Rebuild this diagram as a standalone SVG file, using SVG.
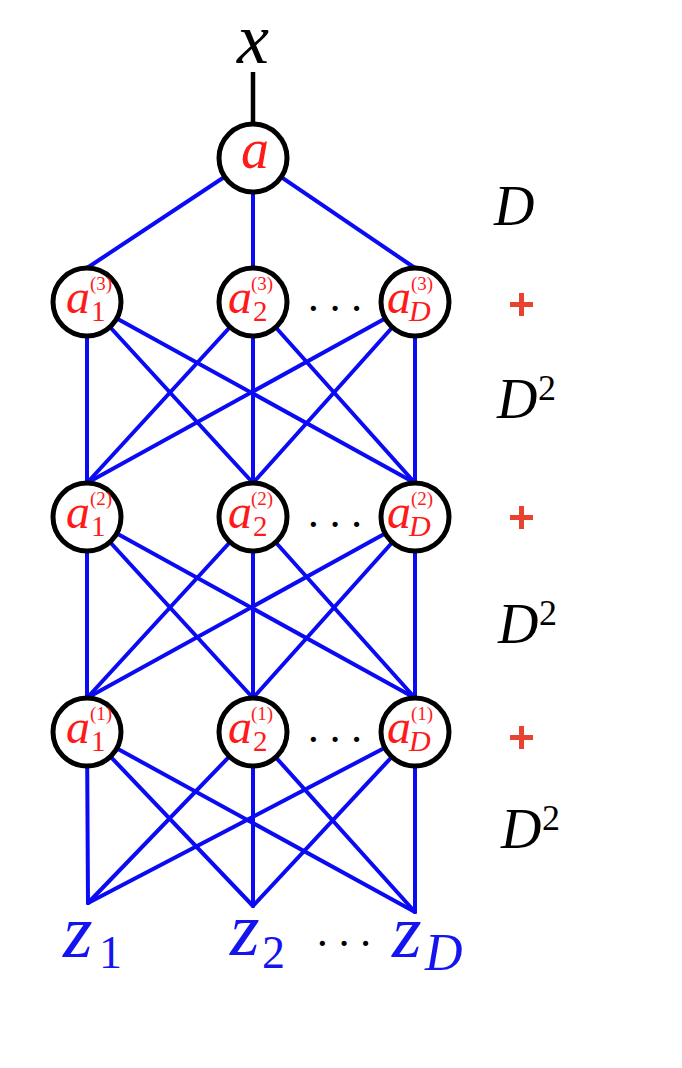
<svg xmlns="http://www.w3.org/2000/svg" width="682" height="1068" viewBox="0 0 682 1068">
<style>
.edge{stroke:#0a0af5;stroke-width:4;fill:none;stroke-linecap:round}
.node circle{fill:#fff;stroke:#000;stroke-width:5}
.it{font-family:"Liberation Serif",serif;font-style:italic}
.rm{font-family:"Liberation Serif",serif}
.red{fill:#ff1a1a}
.blk{fill:#000}
.blue{fill:#1414f0}
.plus{stroke:#e8432e;stroke-width:5}
.dots{font-family:"Liberation Serif",serif;font-size:44px;letter-spacing:7px;fill:#000}
</style>
<rect width="682" height="1068" fill="#fff"/>
<g id="connectors">
<line x1="253" y1="72" x2="253" y2="125" stroke="#000" stroke-width="4.5"/>
<line class="edge" x1="253" y1="158" x2="87" y2="268"/>
<line class="edge" x1="253" y1="158" x2="253" y2="268"/>
<line class="edge" x1="253" y1="158" x2="415" y2="268"/>
<line class="edge" x1="87" y1="302" x2="87" y2="483"/>
<line class="edge" x1="87" y1="302" x2="253" y2="483"/>
<line class="edge" x1="87" y1="302" x2="415" y2="483"/>
<line class="edge" x1="253" y1="302" x2="87" y2="483"/>
<line class="edge" x1="253" y1="302" x2="253" y2="483"/>
<line class="edge" x1="253" y1="302" x2="415" y2="483"/>
<line class="edge" x1="415" y1="302" x2="87" y2="483"/>
<line class="edge" x1="415" y1="302" x2="253" y2="483"/>
<line class="edge" x1="415" y1="302" x2="415" y2="483"/>
<line class="edge" x1="87" y1="517" x2="87" y2="698"/>
<line class="edge" x1="87" y1="517" x2="253" y2="698"/>
<line class="edge" x1="87" y1="517" x2="415" y2="698"/>
<line class="edge" x1="253" y1="517" x2="87" y2="698"/>
<line class="edge" x1="253" y1="517" x2="253" y2="698"/>
<line class="edge" x1="253" y1="517" x2="415" y2="698"/>
<line class="edge" x1="415" y1="517" x2="87" y2="698"/>
<line class="edge" x1="415" y1="517" x2="253" y2="698"/>
<line class="edge" x1="415" y1="517" x2="415" y2="698"/>
<line class="edge" x1="87" y1="732" x2="88" y2="903"/>
<line class="edge" x1="87" y1="732" x2="253" y2="906"/>
<line class="edge" x1="87" y1="732" x2="415" y2="912"/>
<line class="edge" x1="253" y1="732" x2="88" y2="903"/>
<line class="edge" x1="253" y1="732" x2="253" y2="906"/>
<line class="edge" x1="253" y1="732" x2="415" y2="912"/>
<line class="edge" x1="415" y1="732" x2="88" y2="903"/>
<line class="edge" x1="415" y1="732" x2="253" y2="906"/>
<line class="edge" x1="415" y1="732" x2="415" y2="912"/>
</g>
<g id="input-x"><text class="it blk" x="253" y="63" font-size="72" text-anchor="middle">x</text></g>
<g id="node-a" class="node"><circle cx="253" cy="158" r="34"/><text class="it red" x="255" y="168" font-size="56" text-anchor="middle">a</text></g>

<g id="node-a1-3" class="node"><circle cx="87" cy="302" r="34"/><text class="it red" x="66" y="313" font-size="48">a</text><text class="rm red" x="91" y="321" font-size="29">1</text><text class="rm red" x="90" y="290" font-size="19">(3)</text></g>
<g id="node-a2-3" class="node"><circle cx="253" cy="302" r="34"/><text class="it red" x="228" y="313" font-size="48">a</text><text class="rm red" x="253" y="321" font-size="29">2</text><text class="rm red" x="251" y="290" font-size="19">(3)</text></g>
<g id="node-aD-3" class="node"><circle cx="415" cy="302" r="34"/><text class="it red" x="387" y="313" font-size="48">a</text><text class="it red" x="409" y="321" font-size="30">D</text><text class="rm red" x="411" y="290" font-size="19">(3)</text></g>

<g id="node-a1-2" class="node"><circle cx="87" cy="517" r="34"/><text class="it red" x="66" y="528" font-size="48">a</text><text class="rm red" x="91" y="536" font-size="29">1</text><text class="rm red" x="90" y="505" font-size="19">(2)</text></g>
<g id="node-a2-2" class="node"><circle cx="253" cy="517" r="34"/><text class="it red" x="228" y="528" font-size="48">a</text><text class="rm red" x="253" y="536" font-size="29">2</text><text class="rm red" x="251" y="505" font-size="19">(2)</text></g>
<g id="node-aD-2" class="node"><circle cx="415" cy="517" r="34"/><text class="it red" x="387" y="528" font-size="48">a</text><text class="it red" x="409" y="536" font-size="30">D</text><text class="rm red" x="411" y="505" font-size="19">(2)</text></g>

<g id="node-a1-1" class="node"><circle cx="87" cy="732" r="34"/><text class="it red" x="66" y="743" font-size="48">a</text><text class="rm red" x="91" y="751" font-size="29">1</text><text class="rm red" x="90" y="720" font-size="19">(1)</text></g>
<g id="node-a2-1" class="node"><circle cx="253" cy="732" r="34"/><text class="it red" x="228" y="743" font-size="48">a</text><text class="rm red" x="253" y="751" font-size="29">2</text><text class="rm red" x="251" y="720" font-size="19">(1)</text></g>
<g id="node-aD-1" class="node"><circle cx="415" cy="732" r="34"/><text class="it red" x="387" y="743" font-size="48">a</text><text class="it red" x="409" y="751" font-size="30">D</text><text class="rm red" x="411" y="720" font-size="19">(1)</text></g>

<g id="dots">
<text class="dots" x="306" y="323">···</text>
<text class="dots" x="306" y="539">···</text>
<text class="dots" x="306" y="754">···</text>
<text class="dots" x="315" y="958">···</text>
</g>

<g id="inputs-z">
<text class="it blue" x="63" y="957" font-size="76">z</text><text class="rm blue" x="99" y="968" font-size="46">1</text>
<text class="it blue" x="230" y="955" font-size="76">z</text><text class="rm blue" x="262" y="968" font-size="46">2</text>
<text class="it blue" x="392" y="957" font-size="76">z</text><text class="it blue" x="425" y="970" font-size="52">D</text>
</g>

<g id="counts">
<text class="it blk" x="494" y="225" font-size="56">D</text>
<text class="it blk" x="497" y="418" font-size="56">D</text><text class="rm blk" x="538" y="400" font-size="36">2</text>
<text class="it blk" x="498" y="643" font-size="56">D</text><text class="rm blk" x="539" y="625" font-size="36">2</text>
<text class="it blk" x="501" y="848" font-size="56">D</text><text class="rm blk" x="542" y="830" font-size="36">2</text>
</g>
<g id="plus-signs">
<path class="plus" d="M510 304.5H533M521.5 293V316"/>
<path class="plus" d="M510 517.5H533M521.5 506V529"/>
<path class="plus" d="M510 737.5H533M521.5 726V749"/>
</g>
</svg>
